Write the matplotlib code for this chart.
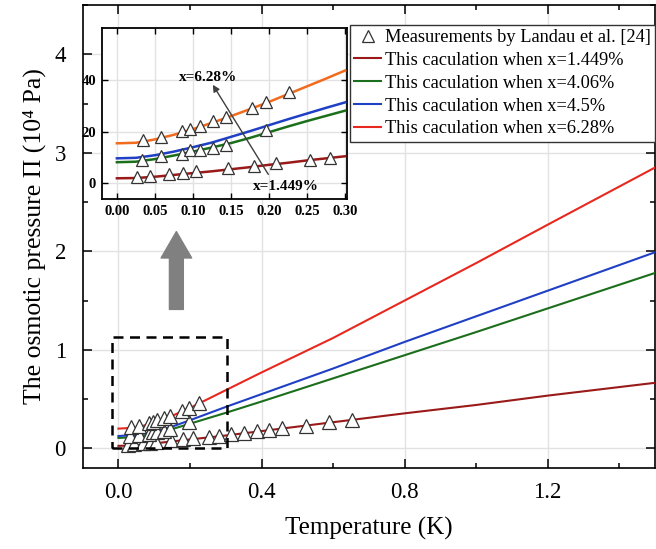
import matplotlib
matplotlib.use("Agg")
import matplotlib.pyplot as plt
from matplotlib.patches import Rectangle
from matplotlib.lines import Line2D
from matplotlib.ticker import MultipleLocator, FixedLocator

plt.rcParams['font.family'] = ['Liberation Serif', 'DejaVu Serif']
plt.rcParams['mathtext.fontset'] = 'stix'

# ---------------- data (main chart, 10^4 Pa) ----------------
T_curve = [0, 0.05, 0.1, 0.15, 0.2, 0.3, 0.4, 0.6, 0.8, 1.0, 1.2, 1.5]
calc_1449 = [0.025, 0.03, 0.05, 0.07, 0.09, 0.13, 0.175, 0.265, 0.355, 0.44, 0.535, 0.665]
calc_406 = [0.105, 0.115, 0.15, 0.195, 0.25, 0.36, 0.475, 0.71, 0.945, 1.18, 1.42, 1.78]
calc_45 = [0.125, 0.135, 0.17, 0.22, 0.285, 0.42, 0.55, 0.81, 1.08, 1.34, 1.60, 1.99]
calc_628 = [0.20, 0.21, 0.26, 0.33, 0.41, 0.59, 0.77, 1.12, 1.50, 1.88, 2.27, 2.85]

meas_T_1449 = [0.027, 0.044, 0.069, 0.087, 0.104, 0.146, 0.18, 0.209, 0.254, 0.28,
               0.314, 0.351, 0.387, 0.421, 0.457, 0.525, 0.59, 0.652]
meas_P_1449 = [0.035, 0.04, 0.05, 0.055, 0.065, 0.08, 0.09, 0.105, 0.115, 0.125,
               0.145, 0.16, 0.171, 0.188, 0.211, 0.228, 0.266, 0.289]
meas_T_406 = [0.033, 0.058, 0.085, 0.096, 0.109, 0.126, 0.143, 0.196]
meas_P_406 = [0.12, 0.135, 0.145, 0.17, 0.17, 0.18, 0.195, 0.265]
meas_T_628 = [0.034, 0.058, 0.085, 0.096, 0.109, 0.126, 0.143, 0.178, 0.196, 0.226]
meas_P_628 = [0.22, 0.23, 0.26, 0.27, 0.285, 0.31, 0.33, 0.38, 0.405, 0.46]

# ---------------- data (inset) ----------------
Ti_curve = [0, 0.025, 0.05, 0.075, 0.1, 0.125, 0.15, 0.175, 0.2, 0.225, 0.25, 0.275, 0.3]
in_1449 = [2.0, 2.1, 2.6, 3.3, 4.0, 4.7, 5.5, 6.3, 7.2, 8.0, 8.9, 9.7, 10.5]
in_406 = [8.2, 8.4, 9.4, 10.8, 12.3, 13.9, 15.6, 17.6, 19.8, 22.0, 24.1, 26.1, 28.1]
in_45 = [9.7, 9.9, 10.9, 12.3, 14.0, 15.8, 18.0, 20.2, 22.5, 24.8, 27.0, 29.2, 31.3]
in_628 = [15.5, 15.7, 17.0, 18.8, 21.0, 23.4, 26.0, 28.7, 31.5, 34.5, 37.5, 40.5, 43.6]

in_mT_1449 = [0.027, 0.044, 0.069, 0.087, 0.104, 0.146, 0.18, 0.209, 0.254, 0.28]
in_mP_1449 = [2.6, 2.8, 3.5, 4.1, 4.7, 6.0, 6.9, 7.9, 9.0, 9.9]
in_mT_406 = [0.033, 0.058, 0.085, 0.096, 0.109, 0.126, 0.143, 0.196]
in_mP_406 = [9.2, 10.5, 11.2, 13.1, 13.1, 13.7, 15.0, 20.5]
in_mT_628 = [0.034, 0.058, 0.085, 0.096, 0.109, 0.126, 0.143, 0.178, 0.196, 0.226]
in_mP_628 = [16.9, 17.8, 20.1, 21.0, 22.0, 24.0, 25.6, 29.1, 31.3, 35.3]

in_xticks = [0.0, 0.05, 0.10, 0.15, 0.20, 0.25, 0.30]
in_xticklabels = ['0.00', '0.05', '0.10', '0.15', '0.20', '0.25', '0.30']
in_yticks = [0, 20, 40]

labels = ["This caculation when x=1.449%", "This caculation when x=4.06%",
          "This caculation when x=4.5%", "This caculation when x=6.28%"]
meas_label = "Measurements by Landau et al. [24]"

c_dred = '#9a1a1a'
c_green = '#1b6e1b'
c_blue = '#1f3fc4'
c_red = '#e8281e'
c_orange = '#f26b1d'

fig = plt.figure(figsize=(6.56, 5.49), dpi=100)
ax = fig.add_axes([0.126, 0.1475, 0.8725, 0.8434])

for y, c in zip([calc_1449, calc_406, calc_45, calc_628], [c_dred, c_green, c_blue, c_red]):
    ax.plot(T_curve, y, color=c, lw=1.5, zorder=3)

mk = dict(ls='none', marker='^', ms=10, mfc='white', mec='#333333', mew=0.9, zorder=4)
ax.plot(meas_T_1449, meas_P_1449, **mk)
ax.plot(meas_T_406, meas_P_406, **mk)
ax.plot(meas_T_628, meas_P_628, **mk)

ax.add_patch(Rectangle((-0.018, 0.0), 0.321, 1.135, fill=False, ec='black',
                       lw=1.8, ls=(0, (4, 2.6)), zorder=5))

ax.annotate('', xy=(0.162, 2.20), xytext=(0.162, 1.41),
            arrowprops=dict(arrowstyle='simple,head_width=1.1,head_length=0.95,tail_width=0.5',
                            color='#808080', mutation_scale=20, shrinkA=0, shrinkB=0))

ax.set_xlim(-0.1, 1.5)
ax.set_ylim(-0.2, 4.5)
ax.xaxis.set_major_locator(FixedLocator([0.0, 0.4, 0.8, 1.2]))
ax.xaxis.set_minor_locator(MultipleLocator(0.2))
ax.yaxis.set_major_locator(FixedLocator([0, 1, 2, 3, 4]))
ax.yaxis.set_minor_locator(MultipleLocator(0.5))
ax.set_xticklabels(['0.0', '0.4', '0.8', '1.2'])
ax.tick_params(which='both', direction='in', top=True, right=True, width=1.1)
ax.tick_params(which='major', length=6.5, labelsize=16.5)
ax.tick_params(axis='x', which='major', pad=10)
ax.tick_params(axis='y', which='major', pad=12)
ax.tick_params(which='minor', length=3.5)
ax.grid(True, which='major', color='#e2e2e2', lw=1.0, zorder=0)
for s in ax.spines.values():
    s.set_linewidth(1.2)
ax.set_xlabel('Temperature (K)', fontsize=18, labelpad=10)
ax.set_ylabel('The osmotic pressure Π (10⁴ Pa)', fontsize=18.5, labelpad=6)

handles = [Line2D([], [], ls='none', marker='^', ms=8, mfc='white', mec='#333333', mew=0.9)]
for c in [c_dred, c_green, c_blue, c_red]:
    handles.append(Line2D([], [], color=c, lw=1.5))
leg = fig.legend(handles, [meas_label] + labels, loc='upper right',
                 bbox_to_anchor=(0.9985, 0.9545), borderaxespad=0, fontsize=13.2,
                 frameon=True, fancybox=False, edgecolor='#333333', framealpha=1,
                 handlelength=1.5, handletextpad=0.2, labelspacing=0.32,
                 borderpad=0.22)
leg.get_frame().set_linewidth(1.0)

# ---------------- inset ----------------
ins = fig.add_axes([0.155, 0.6375, 0.3735, 0.3115])
for y, c in zip([in_1449, in_406, in_45, in_628], [c_dred, c_green, c_blue, c_orange]):
    ins.plot(Ti_curve, y, color=c, lw=1.8, zorder=3)
mk2 = dict(ls='none', marker='^', ms=9, mfc='white', mec='#333333', mew=0.9, zorder=4)
ins.plot(in_mT_1449, in_mP_1449, **mk2)
ins.plot(in_mT_406, in_mP_406, **mk2)
ins.plot(in_mT_628, in_mP_628, **mk2)

ins.annotate('', xy=(0.126, 38.1), xytext=(0.199, 3.5),
             arrowprops=dict(arrowstyle='-|>', color='#404040', lw=1.0,
                             mutation_scale=10, shrinkA=0, shrinkB=0), zorder=6)
ins.text(0.12, 41, 'x=6.28%', fontsize=11, fontweight='bold', ha='center', va='center', zorder=7)
ins.text(0.222, -1.0, 'x=1.449%', fontsize=11, fontweight='bold', ha='center', va='center', zorder=7)

ins.set_xlim(-0.02, 0.302)
ins.set_ylim(-6, 60)
ins.xaxis.set_major_locator(FixedLocator(in_xticks))
ins.yaxis.set_major_locator(FixedLocator(in_yticks))
ins.set_xticklabels(in_xticklabels)
ins.tick_params(which='both', direction='in', top=True, right=True, length=4, width=1.0,
                labelsize=10.5, pad=4)
for lab in ins.get_xticklabels() + ins.get_yticklabels():
    lab.set_fontweight('bold')
ins.grid(True, which='major', color='#e2e2e2', lw=1.0, zorder=0)
for s in ins.spines.values():
    s.set_linewidth(1.3)

fig.savefig('out.png', dpi=100)
